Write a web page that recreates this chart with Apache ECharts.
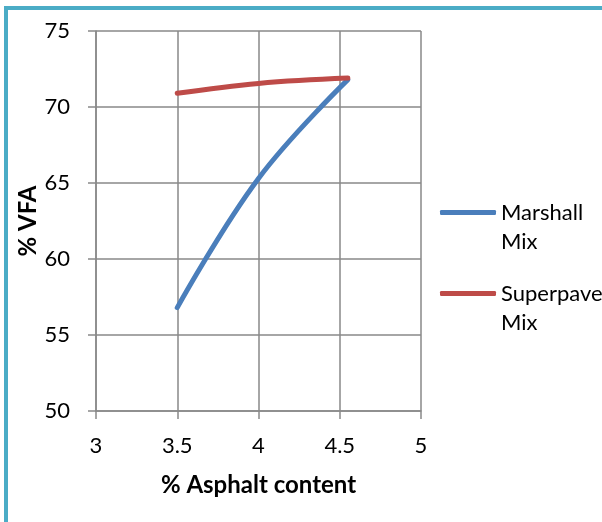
<!DOCTYPE html>
<html>
<head>
<meta charset="utf-8">
<script src="https://cdn.jsdelivr.net/npm/echarts@6/dist/echarts.min.js"></script>
<style>
  html, body { margin: 0; padding: 0; background: #ffffff; }
  #chart { width: 602px; height: 522px; }
</style>
</head>
<body>
<div id="chart"></div>
<script>
// Asphalt content (%) at which each mix was tested
const asphaltContent = [3.5, 4, 4.55];
// Voids filled with asphalt (%)
const marshallVFA = [56.8, 65.3, 71.8];
const superpaveVFA = [70.9, 71.55, 71.9];
const seriesNames = ['Marshall\nMix', 'Superpave\nMix'];
const seriesColors = ['#4A7EBB', '#BE4B48'];

const FONT = 'Lato';
const GRID_COLOR = '#898989';

function pairs(xs, ys) {
  return xs.map((x, i) => [x, ys[i]]);
}

const chart = echarts.init(document.getElementById('chart'), null, { renderer: 'canvas' });

// One legend per series; a blank leading line keeps the key line level with the first text line
function legendFor(name, top) {
  return {
    data: [name],
    left: 435,
    top: top,
    orient: 'vertical',
    icon: 'roundRect',
    itemWidth: 56,
    itemHeight: 5,
    itemGap: 0,
    selectedMode: false,
    formatter: n => ' \n' + n,
    textStyle: {
      fontFamily: FONT,
      fontSize: 22,
      color: '#000',
      lineHeight: 29
    }
  };
}

chart.setOption({
  animation: false,
  backgroundColor: '#ffffff',
  graphic: [{
    type: 'rect',
    shape: { x: 6, y: 8, width: 700, height: 600 },
    style: { fill: 'none', stroke: '#4BACC6', lineWidth: 4 },
    silent: true,
    z: -10
  }],
  grid: { left: 96, right: 181, top: 31, bottom: 111 },
  legend: [legendFor(seriesNames[0], 164), legendFor(seriesNames[1], 245)],
  xAxis: {
    type: 'value',
    min: 3, max: 5, interval: 0.5,
    name: '% Asphalt content',
    nameLocation: 'middle',
    nameGap: 62,
    nameTextStyle: { fontFamily: FONT, fontSize: 24, fontWeight: 'bold', color: '#000' },
    axisLine: { show: true, lineStyle: { color: GRID_COLOR, width: 1.5 } },
    axisTick: { show: true, length: 8, inside: false, lineStyle: { color: GRID_COLOR, width: 1.5 } },
    axisLabel: { fontFamily: FONT, fontSize: 22, color: '#000', margin: 24 },
    splitLine: { show: true, lineStyle: { color: GRID_COLOR, width: 1.5 } }
  },
  yAxis: {
    type: 'value',
    min: 50, max: 75, interval: 5,
    name: '% VFA',
    nameLocation: 'middle',
    nameGap: 56,
    nameMoveOverlap: false,
    nameTextStyle: { fontFamily: FONT, fontSize: 24, fontWeight: 'bold', color: '#000' },
    axisLine: { show: true, lineStyle: { color: GRID_COLOR, width: 1.5 } },
    axisTick: { show: true, length: 8, inside: false, lineStyle: { color: GRID_COLOR, width: 1.5 } },
    axisLabel: { fontFamily: FONT, fontSize: 22, color: '#000', margin: 26 },
    splitLine: { show: true, lineStyle: { color: GRID_COLOR, width: 1.5 } }
  },
  series: [
    {
      name: seriesNames[0],
      type: 'line',
      smooth: 0.4,
      showSymbol: false,
      symbol: 'none',
      data: pairs(asphaltContent, marshallVFA),
      color: seriesColors[0],
      lineStyle: { width: 5, color: seriesColors[0], cap: 'round', join: 'round' }
    },
    {
      name: seriesNames[1],
      type: 'line',
      smooth: 0.4,
      showSymbol: false,
      symbol: 'none',
      data: pairs(asphaltContent, superpaveVFA),
      color: seriesColors[1],
      lineStyle: { width: 5, color: seriesColors[1], cap: 'round', join: 'round' }
    }
  ]
});
</script>
</body>
</html>
